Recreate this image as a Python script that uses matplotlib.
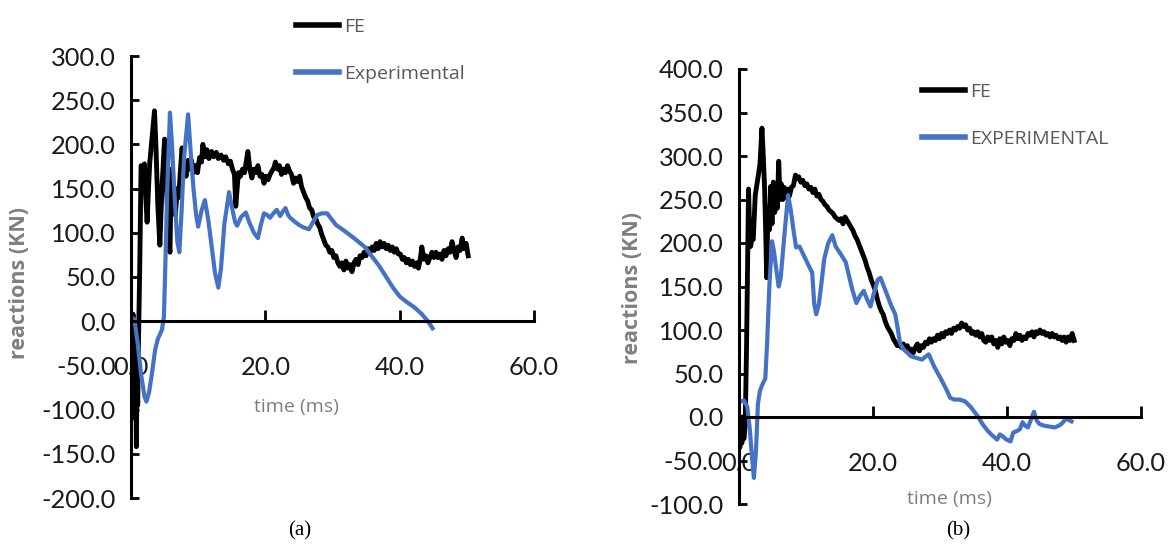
import matplotlib
matplotlib.use("Agg")
import matplotlib.pyplot as plt
from matplotlib.ticker import MultipleLocator, FormatStrFormatter

# ---- panel (a) ----
fe_a_t = [0.0, 0.2, 0.3, 0.4, 0.5, 0.6, 0.7, 0.8, 0.9, 1.0, 1.1, 1.3, 1.5, 1.8, 2.0, 2.2, 2.4, 2.6, 2.8, 3.1,
          3.5, 3.7, 4.0, 4.3, 4.6, 5.0, 5.3, 5.6, 5.8, 6.0, 6.3, 6.6, 6.9, 7.1, 7.4, 7.6, 7.9, 8.2, 8.5, 8.8,
          9.0, 9.3, 9.6, 9.9, 10.2, 10.5, 10.7, 11.0, 11.3, 11.6, 12.0, 12.3, 12.7, 13.0, 13.4, 13.8, 14.1, 14.5, 14.8, 15.1,
          15.4, 15.6, 15.8, 16.0, 16.3, 16.6, 16.9, 17.2, 17.4, 17.7, 18.0, 18.3, 18.6, 18.9, 19.2, 19.5, 19.8, 20.1, 20.4, 20.7,
          21.0, 21.3, 21.5, 21.8, 22.1, 22.4, 22.7, 23.0, 23.3, 23.6, 23.9, 24.2, 24.5, 24.8, 25.1, 25.4, 25.7, 26.0, 26.3, 26.6,
          26.9, 27.2, 27.5, 27.8, 28.1, 28.4, 28.7, 29.0, 29.3, 29.6, 29.9, 30.2, 30.5, 30.8, 31.1, 31.4, 31.7, 32.0, 32.3, 32.6,
          32.9, 33.2, 33.5, 33.8, 34.1, 34.4, 34.7, 35.0, 35.3, 35.6, 35.9, 36.2, 36.5, 36.8, 37.1, 37.4, 37.7, 38.0, 38.3, 38.6,
          38.9, 39.2, 39.5, 39.8, 40.1, 40.4, 40.7, 41.0, 41.3, 41.6, 41.9, 42.2, 42.5, 42.8, 43.1, 43.3, 43.6, 43.9, 44.2, 44.5,
          44.8, 45.1, 45.4, 45.7, 46.0, 46.3, 46.6, 46.9, 47.2, 47.5, 47.8, 48.1, 48.4, 48.7, 49.0, 49.3, 49.6, 49.9, 50.2]
fe_a_v = [-5, -30, 8, -75, -20, -110, -40, -142, -60, -95, -30, 60, 176, 172, 178, 140, 112, 150, 180, 205,
          238, 200, 130, 86, 150, 206, 150, 95, 78, 172, 140, 120, 150, 140, 175, 196, 175, 164, 182, 172,
          182, 168, 176, 168, 185, 180, 200, 186, 194, 184, 192, 186, 191, 184, 188, 182, 186, 178, 181, 172,
          166, 130, 150, 168, 164, 172, 168, 182, 192, 172, 162, 172, 168, 176, 164, 166, 156, 164, 160, 166,
          170, 174, 180, 172, 176, 166, 172, 168, 176, 170, 166, 156, 162, 158, 164, 152, 146, 140, 136, 128,
          126, 118, 116, 110, 106, 98, 92, 86, 84, 78, 80, 72, 74, 66, 62, 66, 58, 68, 60, 64,
          56, 66, 70, 64, 74, 72, 78, 74, 82, 78, 84, 80, 88, 82, 90, 84, 88, 82, 86, 80,
          84, 78, 82, 76, 76, 70, 72, 66, 70, 64, 68, 62, 66, 60, 72, 84, 70, 74, 66, 72,
          78, 72, 78, 72, 76, 70, 80, 74, 82, 78, 90, 80, 72, 84, 80, 94, 82, 88, 74]

exp_a_t = [0.0, 0.5, 1.0, 1.5, 2.0, 2.3, 2.7, 3.1, 3.6, 4.0, 4.6, 4.9, 5.1, 5.4, 5.8, 6.1, 6.5, 6.9, 7.2, 7.5,
           7.9, 8.5, 8.9, 9.3, 9.7, 10.0, 10.5, 11.0, 11.5, 12.0, 12.5, 13.0, 13.4, 13.9, 14.6, 15.0, 15.5, 15.8, 16.4, 17.1,
           17.6, 18.3, 18.9, 19.3, 19.8, 20.3, 20.7, 21.2, 21.7, 22.2, 22.6, 23.0, 23.4, 23.7, 24.3, 25.0, 25.7, 26.5, 27.1, 27.7,
           28.4, 29.2, 30.5, 31.8, 33.2, 34.8, 36.0, 37.0, 38.0, 39.0, 40.0, 41.0, 42.3, 43.3, 44.2, 44.9]
exp_a_v = [4, 2, -25, -60, -85, -91, -80, -60, -32, -20, -10, 5, 60, 150, 236, 200, 140, 90, 78, 120,
           185, 234, 190, 150, 120, 107, 125, 137, 115, 85, 55, 38, 60, 110, 146, 130, 112, 108, 118, 123,
           112, 100, 94, 108, 122, 120, 117, 122, 126, 119, 124, 128, 120, 117, 113, 109, 106, 104, 112, 120,
           122, 122, 109, 102, 94, 84, 72, 62, 50, 38, 28, 22, 15, 8, 0, -8]

# ---- panel (b) ----
fe_b_t = [0.0, 0.2, 0.3, 0.5, 0.6, 0.8, 1.0, 1.2, 1.4, 1.5, 1.6, 1.8, 2.0, 2.2, 2.5, 2.9, 3.2, 3.5, 3.7, 3.9,
          4.1, 4.2, 4.4, 4.6, 4.8, 5.0, 5.2, 5.4, 5.6, 5.8, 6.0, 6.2, 6.4, 6.6, 6.8, 7.0, 7.3, 7.6, 7.9, 8.2,
          8.5, 8.7, 9.0, 9.3, 9.6, 9.9, 10.2, 10.5, 10.8, 11.1, 11.4, 11.7, 12.0, 12.3, 12.6, 12.9, 13.2, 13.5, 13.8, 14.1,
          14.4, 14.7, 15.0, 15.3, 15.6, 15.9, 16.2, 16.5, 16.8, 17.1, 17.4, 17.7, 18.0, 18.3, 18.6, 18.9, 19.2, 19.5, 19.8, 20.1,
          20.4, 20.7, 21.0, 21.3, 21.6, 21.9, 22.2, 22.5, 22.8, 23.1, 23.4, 23.7, 24.0, 24.3, 24.6, 24.9, 25.2, 25.5, 25.8, 26.1,
          26.4, 26.7, 27.0, 27.3, 27.6, 27.9, 28.2, 28.5, 28.8, 29.1, 29.4, 29.7, 30.0, 30.3, 30.6, 30.9, 31.2, 31.5, 31.8, 32.1,
          32.4, 32.7, 33.0, 33.3, 33.6, 33.9, 34.2, 34.5, 34.8, 35.1, 35.4, 35.7, 36.0, 36.3, 36.6, 36.9, 37.2, 37.5, 37.8, 38.1,
          38.4, 38.7, 39.0, 39.3, 39.6, 39.9, 40.2, 40.5, 40.8, 41.1, 41.4, 41.7, 42.0, 42.3, 42.6, 42.9, 43.2, 43.5, 43.8, 44.1,
          44.4, 44.7, 45.0, 45.3, 45.6, 45.9, 46.2, 46.5, 46.8, 47.1, 47.4, 47.7, 48.0, 48.3, 48.6, 48.9, 49.2, 49.5, 49.8, 50.1]
fe_b_v = [-20, -35, -5, -30, 0, -25, -10, 80, 198, 262, 230, 196, 205, 204, 255, 275, 290, 332, 300, 262,
          200, 160, 240, 215, 265, 222, 270, 235, 262, 240, 294, 250, 268, 250, 264, 252, 262, 254, 264, 266,
          278, 274, 276, 270, 272, 266, 268, 262, 264, 258, 262, 254, 256, 250, 248, 244, 242, 238, 236, 234,
          230, 228, 226, 228, 222, 230, 226, 222, 218, 214, 208, 204, 198, 192, 186, 180, 172, 166, 158, 152,
          146, 136, 128, 122, 118, 110, 104, 100, 96, 90, 86, 82, 84, 80, 84, 78, 82, 76, 78, 74,
          80, 84, 76, 82, 80, 86, 84, 90, 86, 90, 88, 94, 90, 96, 92, 98, 96, 100, 96, 102,
          100, 104, 102, 108, 104, 106, 100, 102, 96, 98, 94, 98, 92, 96, 88, 86, 92, 88, 92, 84,
          88, 80, 90, 84, 92, 86, 88, 82, 90, 88, 96, 90, 94, 88, 92, 90, 96, 94, 98, 92,
          98, 96, 100, 96, 98, 94, 96, 92, 96, 92, 94, 90, 92, 88, 92, 86, 92, 88, 96, 88]

exp_b_t = [0.0, 0.8, 1.3, 1.7, 2.0, 2.3, 2.6, 2.9, 3.2, 3.6, 4.0, 4.3, 4.6, 5.0, 5.3, 5.6, 6.0, 6.3, 6.8, 7.4,
           7.8, 8.2, 8.6, 9.1, 9.6, 10.1, 10.6, 11.0, 11.3, 11.6, 12.0, 12.4, 12.8, 13.4, 14.0, 14.5, 15.2, 16.0, 16.5, 17.0,
           17.6, 18.2, 18.7, 19.2, 19.7, 20.2, 20.8, 21.2, 21.7, 22.3, 22.8, 23.4, 23.8, 24.1, 24.6, 25.2, 25.7, 26.5, 27.4, 28.0,
           28.4, 29.2, 30.2, 31.0, 31.6, 32.2, 33.0, 33.8, 34.6, 35.3, 35.8, 36.4, 37.2, 38.0, 38.6, 39.0, 39.4, 40.0, 40.6, 41.0,
           41.6, 42.0, 42.4, 42.8, 43.2, 43.6, 44.1, 44.5, 44.9, 45.6, 46.4, 47.2, 47.8, 48.2, 48.9, 49.7]
exp_b_v = [17, 19, 12, -15, -45, -70, -40, 15, 30, 38, 44, 90, 150, 202, 190, 172, 150, 160, 205, 255,
           238, 215, 195, 196, 188, 180, 172, 166, 130, 118, 130, 155, 182, 200, 209, 196, 188, 178, 162, 146,
           131, 140, 145, 135, 127, 142, 158, 160, 150, 138, 128, 118, 100, 85, 78, 74, 70, 68, 66, 70,
           72, 58, 44, 32, 22, 20, 20, 18, 12, 5, 0, -8, -16, -22, -26, -20, -22, -26, -28, -18,
           -16, -14, -6, -10, -12, -4, 6, -4, -8, -10, -11, -12, -10, -8, -2, -5]

W, H = 1171, 549
BLUE = '#4472C4'
GREY = '#7f7f7f'
TICK_FONT = ['Lato', 'DejaVu Sans']
TEXT_FONT = ['Open Sans', 'DejaVu Sans']

fig = plt.figure(figsize=(W / 100, H / 100), dpi=100)


def px_axes(x0, x1, y_top, y_bot):
    return fig.add_axes([x0 / W, 1 - y_bot / H, (x1 - x0) / W, (y_bot - y_top) / H])


def style_axes(ax, ymin, ymax):
    ax.set_xlim(0, 60)
    ax.set_ylim(ymin, ymax)
    for s in ['top', 'right']:
        ax.spines[s].set_visible(False)
    ax.spines['bottom'].set_position(('data', 0))
    ax.spines['left'].set_linewidth(2.2)
    ax.spines['bottom'].set_linewidth(2.2)
    ax.xaxis.set_major_locator(MultipleLocator(20))
    ax.yaxis.set_major_locator(MultipleLocator(50))
    ax.xaxis.set_major_formatter(FormatStrFormatter('%.1f'))
    ax.yaxis.set_major_formatter(FormatStrFormatter('%.1f'))
    ax.tick_params(axis='y', direction='in', length=6, width=2, pad=11)
    ax.tick_params(axis='x', direction='in', length=8, width=2, pad=25)
    for lab in ax.get_xticklabels() + ax.get_yticklabels():
        lab.set_family(TICK_FONT)
        lab.set_fontsize(18.3)
        lab.set_color('#1a1a1a')


def style_labels(ax, ylab_xy, xlab_xy):
    ax.set_ylabel('reactions (KN)', family=TEXT_FONT, fontsize=15.5, color=GREY, fontweight='bold')
    ax.yaxis.label.set_va('center')
    ax.yaxis.set_label_coords(*ylab_xy)
    ax.set_xlabel('time (ms)', family=TEXT_FONT, fontsize=14, color=GREY)
    ax.xaxis.label.set_va('center')
    ax.xaxis.set_label_coords(*xlab_xy)


# (a)
ax1 = px_axes(131, 534, 56, 498)
ax1.plot(fe_a_t, fe_a_v, color='black', lw=3.5, label='FE', solid_joinstyle='round')
ax1.plot(exp_a_t, exp_a_v, color=BLUE, lw=3, label='Experimental')
style_axes(ax1, -200, 300)
style_labels(ax1, ((20 - 131) / 403, (498 - 283) / 442), ((296 - 131) / 403, (498 - 407) / 442))
leg1 = ax1.legend(loc='upper left', bbox_to_anchor=(296 / W, 1 - 18 / H), bbox_transform=fig.transFigure,
                  frameon=False, borderpad=0, borderaxespad=0, handlelength=2.2, handletextpad=0.25,
                  labelspacing=1.5, prop={'family': TEXT_FONT, 'size': 14})

# (b)
ax2 = px_axes(738.5, 1140.5, 69, 504)
ax2.plot(fe_b_t, fe_b_v, color='black', lw=3.5, label='FE', solid_joinstyle='round')
ax2.plot(exp_b_t, exp_b_v, color=BLUE, lw=3, label='EXPERIMENTAL')
style_axes(ax2, -100, 400)
style_labels(ax2, ((632 - 738.5) / 402, (504 - 288) / 435), ((949 - 738.5) / 402, (504 - 499) / 435))
leg2 = ax2.legend(loc='upper left', bbox_to_anchor=(922 / W, 1 - 83 / H), bbox_transform=fig.transFigure,
                  frameon=False, borderpad=0, borderaxespad=0, handlelength=2.2, handletextpad=0.25,
                  labelspacing=1.5, prop={'family': TEXT_FONT, 'size': 14})

for leg in (leg1, leg2):
    for txt in leg.get_texts():
        txt.set_color('#595959')
    for h in leg.get_lines():
        h.set_linewidth(4)

fig.text(300 / W, 1 - 531 / H, '(a)', family=['Liberation Serif'], fontsize=15, ha='center', va='center')
fig.text(958 / W, 1 - 531 / H, '(b)', family=['Liberation Serif'], fontsize=15, ha='center', va='center')

fig.savefig('out.png', dpi=100)
